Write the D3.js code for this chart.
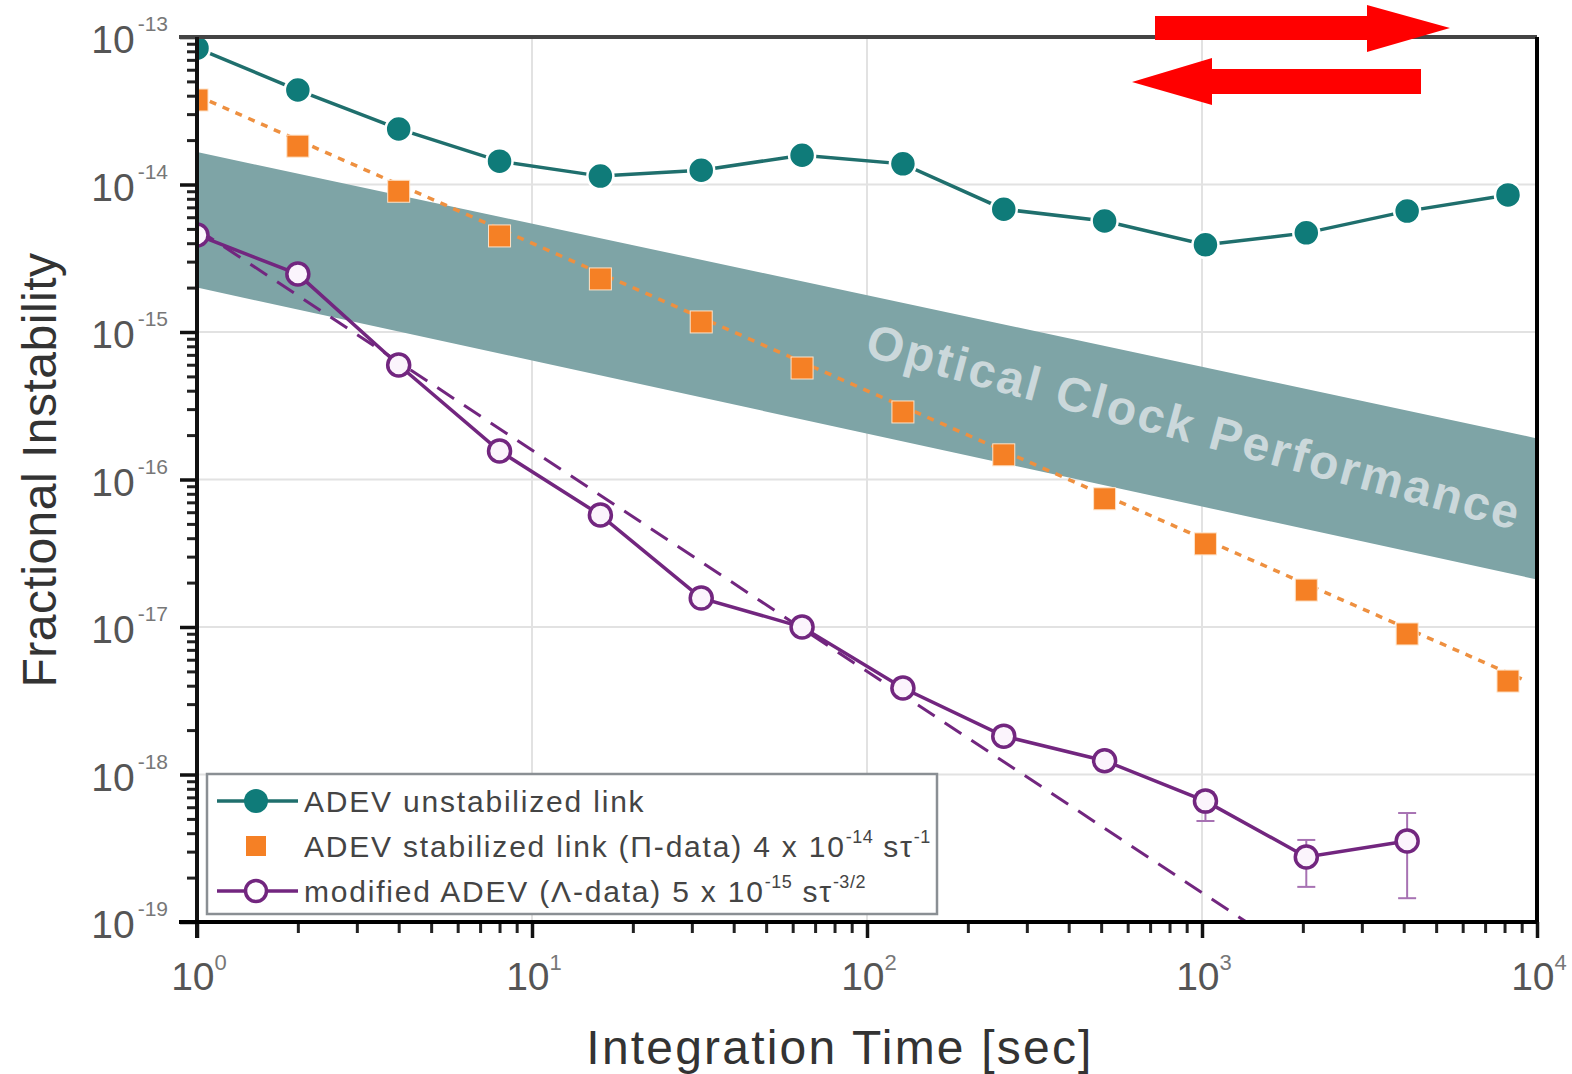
<html>
<head>
<script src="https://d3js.org/d3.v7.min.js"></script>
<style>
  body { margin: 0; background: #fff; }
  text { font-family: "Liberation Sans", Arial, sans-serif; }
</style>
</head>
<body>
<svg id="svg" width="1572" height="1074"></svg>
<script>
// DATA
const tau = [1, 2, 4, 8, 16, 32, 64, 128, 256, 512, 1024, 2048, 4096, 8192]
const unstabilized = [8.4e-14, 4.37e-14, 2.38e-14, 1.44e-14, 1.14e-14, 1.25e-14, 1.58e-14,
  1.38e-14, 6.8e-15, 5.66e-15, 3.9e-15, 4.7e-15, 6.6e-15, 8.5e-15]
const stabilized = [3.74e-14, 1.82e-14, 9.0e-15, 4.48e-15, 2.29e-15, 1.17e-15, 5.7e-16,
  2.87e-16, 1.47e-16, 7.4e-17, 3.66e-17, 1.78e-17, 8.97e-18, 4.3e-18]
const tauMod = [1, 2, 4, 8, 16, 32, 64, 128, 256, 512, 1024, 2048, 4096]
const modified = [4.55e-15, 2.47e-15, 5.97e-16, 1.56e-16, 5.74e-17, 1.57e-17, 1.0e-17,
  3.86e-18, 1.82e-18, 1.24e-18, 6.6e-19, 2.76e-19, 3.54e-19]
// error bars
const modErrTau = [1024, 2048, 4096]
const modErrLow = [4.84e-19, 1.73e-19, 1.45e-19]
const modErrHigh = [7.6e-19, 3.6e-19, 5.48e-19]
// fits
const fitStabCoef = 4e-14, fitStabExp = -1
const fitModCoef = 5e-15, fitModExp = -1.5
// optical clock band edges
const bandTau = [1, 1e4]
const bandUpper = [1.66e-14, 1.9e-16]
const bandLower = [2.0e-15, 2.1e-17]
const xDecades = [1, 10, 100, 1000, 10000]
const xExp = ["0", "1", "2", "3", "4"]
const yDecades = [1e-13, 1e-14, 1e-15, 1e-16, 1e-17, 1e-18, 1e-19]
const yExp = ["-13", "-14", "-15", "-16", "-17", "-18", "-19"]

// LAYOUT
const L = 197, R = 1537, T = 37, B = 922
const x = d3.scaleLog().domain([1, 1e4]).range([L, R])
const y = d3.scaleLog().domain([1e-19, 1e-13]).range([B, T])

const teal = "#0f7b79", tealLine = "#1f6f6d"
const orange = "#f58025", orangeLine = "#ee9040"
const purple = "#72267f"
const bandCol = "#7ea4a6"

const svg = d3.select("#svg")

svg.append("defs").append("clipPath").attr("id", "plot")
  .append("rect").attr("x", L).attr("y", T).attr("width", R - L).attr("height", B - T)

// grid
const grid = svg.append("g").attr("stroke", "#e2e2e2").attr("stroke-width", 2)
grid.selectAll("line.v").data(xDecades.slice(1, -1)).enter().append("line")
  .attr("x1", d => x(d)).attr("x2", d => x(d)).attr("y1", T).attr("y2", B)
grid.selectAll("line.h").data(yDecades.slice(1, -1)).enter().append("line")
  .attr("y1", d => y(d)).attr("y2", d => y(d)).attr("x1", L).attr("x2", R)

const plot = svg.append("g").attr("clip-path", "url(#plot)")

// band
const bandData = bandTau.map((t, i) => ({ t, lo: bandLower[i], hi: bandUpper[i] }))
plot.append("path")
  .datum(bandData)
  .attr("fill", bandCol)
  .attr("d", d3.area().x(d => x(d.t)).y0(d => y(d.lo)).y1(d => y(d.hi)))

plot.append("text")
  .attr("transform", "translate(1190,443) rotate(15)")
  .attr("text-anchor", "middle")
  .attr("font-size", 48)
  .attr("font-weight", "bold")
  .attr("fill", "#cbd8db")
  .attr("letter-spacing", 2.5)
  .text("Optical Clock Performance")

// fit lines
const fitLine = d3.line().x(d => x(d[0])).y(d => y(d[1]))
plot.append("path")
  .datum([1, 9000].map(t => [t, fitStabCoef * Math.pow(t, fitStabExp)]))
  .attr("fill", "none").attr("stroke", orangeLine).attr("stroke-width", 3.5)
  .attr("stroke-dasharray", "7,7")
  .attr("d", fitLine)
plot.append("path")
  .datum([1, 2000].map(t => [t, fitModCoef * Math.pow(t, fitModExp)]))
  .attr("fill", "none").attr("stroke", purple).attr("stroke-width", 3)
  .attr("stroke-dasharray", "20,12")
  .attr("d", fitLine)

// series lines
const line = d3.line().x(d => x(d[0])).y(d => y(d[1]))
plot.append("path")
  .datum(tau.map((t, i) => [t, unstabilized[i]]))
  .attr("fill", "none").attr("stroke", tealLine).attr("stroke-width", 3.5)
  .attr("d", line)
plot.append("path")
  .datum(tauMod.map((t, i) => [t, modified[i]]))
  .attr("fill", "none").attr("stroke", purple).attr("stroke-width", 3.5)
  .attr("d", line)

// error bars
const eb = plot.append("g").attr("stroke", "#a772b3").attr("stroke-width", 2)
modErrTau.forEach((t, i) => {
  const cx = x(t)
  eb.append("line").attr("x1", cx).attr("x2", cx).attr("y1", y(modErrLow[i])).attr("y2", y(modErrHigh[i]))
  eb.append("line").attr("x1", cx - 9).attr("x2", cx + 9).attr("y1", y(modErrLow[i])).attr("y2", y(modErrLow[i]))
  eb.append("line").attr("x1", cx - 9).attr("x2", cx + 9).attr("y1", y(modErrHigh[i])).attr("y2", y(modErrHigh[i]))
})

// markers
plot.append("g").selectAll("circle")
  .data(tau.map((t, i) => [t, unstabilized[i]]))
  .enter().append("circle")
  .attr("cx", d => x(d[0])).attr("cy", d => y(d[1])).attr("r", 13)
  .attr("fill", teal).attr("stroke", "#fff").attr("stroke-width", 2.5)
plot.append("g").selectAll("rect")
  .data(tau.map((t, i) => [t, stabilized[i]]))
  .enter().append("rect")
  .attr("x", d => x(d[0]) - 11).attr("y", d => y(d[1]) - 11)
  .attr("width", 22).attr("height", 22)
  .attr("fill", orange).attr("stroke", "#fde2c8").attr("stroke-width", 1)
plot.append("g").selectAll("circle")
  .data(tauMod.map((t, i) => [t, modified[i]]))
  .enter().append("circle")
  .attr("cx", d => x(d[0])).attr("cy", d => y(d[1])).attr("r", 11)
  .attr("fill", "#fbf4fc")
  .attr("stroke", purple).attr("stroke-width", 3.5)

// legend
const lg = svg.append("g")
lg.append("rect").attr("x", 207).attr("y", 774).attr("width", 730).attr("height", 140)
  .attr("fill", "#fff").attr("stroke", "#8a8f94").attr("stroke-width", 2.5)
const rowY = [801, 846, 891]
lg.append("line").attr("x1", 217).attr("x2", 298).attr("y1", rowY[0]).attr("y2", rowY[0])
  .attr("stroke", tealLine).attr("stroke-width", 3.5)
lg.append("circle").attr("cx", 256).attr("cy", rowY[0]).attr("r", 12).attr("fill", teal)
lg.append("rect").attr("x", 246).attr("y", rowY[1] - 10).attr("width", 20).attr("height", 20).attr("fill", orange)
lg.append("line").attr("x1", 217).attr("x2", 298).attr("y1", rowY[2]).attr("y2", rowY[2])
  .attr("stroke", purple).attr("stroke-width", 3.5)
lg.append("circle").attr("cx", 256).attr("cy", rowY[2]).attr("r", 10.5)
  .attr("fill", "#fff").attr("stroke", purple).attr("stroke-width", 3.5)

const legTxt = (yy, parts) => {
  const t = lg.append("text").attr("x", 304).attr("y", yy + 11)
    .attr("font-size", 30).attr("fill", "#444").attr("letter-spacing", 1.8)
  parts.forEach(p => {
    if (p.sup) t.append("tspan").attr("dy", -14).attr("font-size", 18).attr("letter-spacing", 0.5).text(p.sup)
    else t.append("tspan").attr("dy", p.down ? 14 : 0).text(p.s)
  })
}
legTxt(rowY[0], [{ s: "ADEV unstabilized link" }])
legTxt(rowY[1], [{ s: "ADEV stabilized link (\u03A0-data) 4 x 10" }, { sup: "-14" },
  { s: " s\u03C4", down: true }, { sup: "-1" }])
legTxt(rowY[2], [{ s: "modified ADEV (\u039B-data) 5 x 10" }, { sup: "-15" },
  { s: " s\u03C4", down: true }, { sup: "-3/2" }])

// axes
const minorX = [], minorY = []
for (let d = 1; d < 1e4; d *= 10) for (let k = 2; k < 10; k++) minorX.push(d * k)
for (let d = 1e-19; d < 1e-13 * 0.99; d *= 10) for (let k = 2; k < 10; k++) minorY.push(d * k)

const ax = svg.append("g").attr("stroke", "#111")
ax.append("g").attr("transform", `translate(0,${B})`)
  .call(d3.axisBottom(x).tickValues(minorX).tickSize(11).tickFormat("").tickSizeOuter(0))
  .call(g => g.select(".domain").remove())
  .selectAll("line").attr("stroke", "#222").attr("stroke-width", 3)
ax.append("g").attr("transform", `translate(0,${B})`)
  .call(d3.axisBottom(x).tickValues(xDecades).tickSize(16).tickFormat("").tickSizeOuter(0))
  .call(g => g.select(".domain").remove())
  .selectAll("line").attr("stroke", "#111").attr("stroke-width", 3.5)
ax.append("g").attr("transform", `translate(${L},0)`)
  .call(d3.axisLeft(y).tickValues(minorY).tickSize(10).tickFormat("").tickSizeOuter(0))
  .call(g => g.select(".domain").remove())
  .selectAll("line").attr("stroke", "#222").attr("stroke-width", 3)
ax.append("g").attr("transform", `translate(${L},0)`)
  .call(d3.axisLeft(y).tickValues(yDecades).tickSize(17).tickFormat("").tickSizeOuter(0))
  .call(g => g.select(".domain").remove())
  .selectAll("line").attr("stroke", "#111").attr("stroke-width", 3.5)

// frame
svg.append("line").attr("x1", L - 18).attr("x2", R).attr("y1", T).attr("y2", T)
  .attr("stroke", "#444").attr("stroke-width", 4)
svg.append("line").attr("x1", R).attr("x2", R).attr("y1", T).attr("y2", B)
  .attr("stroke", "#000").attr("stroke-width", 4)
svg.append("line").attr("x1", L).attr("x2", L).attr("y1", T).attr("y2", B + 16)
  .attr("stroke", "#111").attr("stroke-width", 4)
svg.append("line").attr("x1", L - 18).attr("x2", R).attr("y1", B).attr("y2", B)
  .attr("stroke", "#000").attr("stroke-width", 4)

// tick labels
const lab = svg.append("g").attr("fill", "#555")
xDecades.forEach((d, i) => {
  const t = lab.append("text").attr("x", x(d) + 2).attr("y", 990)
    .attr("text-anchor", "middle").attr("font-size", 39)
  t.append("tspan").text("10")
  t.append("tspan").attr("dy", -20).attr("font-size", 22).attr("fill", "#777").text(xExp[i])
})
yDecades.forEach((d, i) => {
  const t = lab.append("text").attr("x", 168).attr("y", y(d) + 16)
    .attr("text-anchor", "end").attr("font-size", 39)
  t.append("tspan").text("10")
  t.append("tspan").attr("dy", -22).attr("dx", 3).attr("font-size", 21).attr("fill", "#777").text(yExp[i])
})

// axis titles
svg.append("text")
  .attr("transform", "translate(56,470) rotate(-90)")
  .attr("text-anchor", "middle").attr("font-size", 48).attr("fill", "#333")
  .attr("letter-spacing", 0.5)
  .text("Fractional Instability")
svg.append("text")
  .attr("x", 840).attr("y", 1064)
  .attr("text-anchor", "middle").attr("font-size", 48).attr("fill", "#333")
  .attr("letter-spacing", 2.2)
  .text("Integration Time [sec]")

// direction arrows
const arrows = svg.append("g").attr("fill", "#ff0000")
arrows.append("polygon").attr("points", "1155,16 1367,16 1367,5 1450,28 1367,52 1367,40 1155,40")
arrows.append("polygon").attr("points", "1421,69 1212,69 1212,58 1132,82 1212,105 1212,94 1421,94")
</script>
</body>
</html>
